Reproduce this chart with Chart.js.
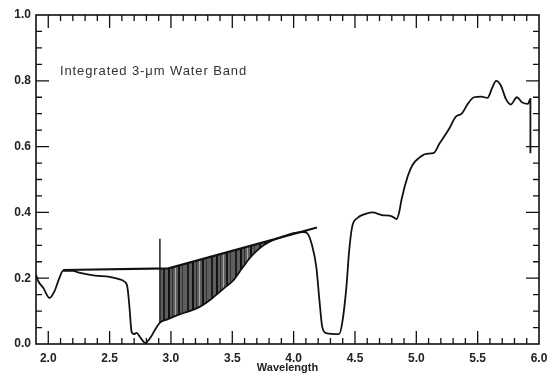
<!DOCTYPE html>
<html>
<head>
<meta charset="utf-8">
<script src="https://cdn.jsdelivr.net/npm/chart.js@4/dist/chart.umd.min.js"></script>
<style>
  html, body { margin: 0; padding: 0; background: #fff; }
  canvas { display: block; }
</style>
</head>
<body>
<canvas id="spectrum" width="549" height="377"></canvas>
<script>
// measured spectrum: wavelength (um) and reflectance
const waveX = [1.90, 1.92, 1.96, 2.01, 2.05, 2.09, 2.12, 2.20, 2.26, 2.38, 2.50, 2.57, 2.62, 2.645,
  2.66, 2.68, 2.70, 2.72, 2.75, 2.79, 2.83, 2.87, 2.91, 2.97, 3.07, 3.15, 3.23, 3.34, 3.45, 3.50,
  3.58, 3.64, 3.72, 3.80, 3.90, 4.00, 4.08, 4.11, 4.15, 4.185, 4.21, 4.233, 4.266, 4.37, 4.396,
  4.43, 4.453, 4.477, 4.52, 4.58, 4.64, 4.72, 4.80, 4.84, 4.86, 4.88, 4.93, 4.97, 5.02, 5.08,
  5.14, 5.19, 5.27, 5.32, 5.37, 5.42, 5.47, 5.53, 5.58, 5.62, 5.65, 5.69, 5.73, 5.77, 5.82,
  5.86, 5.91, 5.93, 5.93];
const waveY = [0.21, 0.19, 0.17, 0.14, 0.16, 0.20, 0.222, 0.222, 0.216, 0.208, 0.204, 0.198, 0.19, 0.173,
  0.12, 0.036, 0.03, 0.034, 0.02, 0.003, 0.018, 0.043, 0.065, 0.075, 0.09, 0.10, 0.112, 0.14, 0.175, 0.19,
  0.23, 0.26, 0.29, 0.31, 0.325, 0.337, 0.34, 0.337, 0.30, 0.234, 0.134, 0.052, 0.033, 0.030, 0.064,
  0.173, 0.285, 0.356, 0.383, 0.395, 0.40, 0.392, 0.388, 0.38, 0.40, 0.44, 0.51, 0.545, 0.565, 0.578,
  0.58, 0.61, 0.656, 0.69, 0.70, 0.73, 0.75, 0.752, 0.748, 0.78, 0.80, 0.785, 0.745, 0.728, 0.75,
  0.735, 0.73, 0.745, 0.58];

// continuum drawn over the band
const baseX = [2.12, 2.98, 4.19];
const baseY = [0.225, 0.230, 0.354];

// band start marker
const markerX = [2.91, 2.91];
const markerY = [0.065, 0.32];

// integration limits of the hatched band
const bandStart = 2.91;
const bandEnd = 4.11;

const xTicks = [2.0, 2.5, 3.0, 3.5, 4.0, 4.5, 5.0, 5.5, 6.0];
const yTicks = [0.0, 0.2, 0.4, 0.6, 0.8, 1.0];

const toPoints = (xs, ys) => xs.map((x, i) => ({ x, y: ys[i] }));
const spectrum = toPoints(waveX, waveY);
const band = spectrum.filter(p => p.x >= bandStart && p.x <= bandEnd);

// vertical stripe fill for the integrated band
function stripePattern(ctx) {
  const c = document.createElement('canvas');
  c.width = 24;
  c.height = 24;
  const p = c.getContext('2d');
  p.fillStyle = '#5e5e5e';
  p.fillRect(0, 0, 24, 24);
  const stripes = [[0, 2, '#111'], [4, 1, '#2e2e2e'], [7, 1, '#a8a8a8'], [10, 2, '#151515'],
    [14, 1, '#383838'], [19, 2, '#1c1c1c']];
  stripes.forEach(([x, w, col]) => { p.fillStyle = col; p.fillRect(x, 0, w, 24); });
  return ctx.createPattern(c, 'repeat');
}

const frameTicks = {
  id: 'frameTicks',
  afterDatasetsDraw(chart) {
    const { ctx, chartArea: a, scales: { x, y } } = chart;
    ctx.save();
    ctx.strokeStyle = '#111';
    ctx.lineWidth = 1.6;
    ctx.strokeRect(a.left, a.top, a.right - a.left, a.bottom - a.top);

    ctx.lineWidth = 1.3;
    ctx.beginPath();
    for (let i = 20; i <= 59; i++) {
      const px = x.getPixelForValue(i / 10);
      const len = i % 5 === 0 ? 13 : 6;
      ctx.moveTo(px, a.bottom); ctx.lineTo(px, a.bottom - len);
      ctx.moveTo(px, a.top); ctx.lineTo(px, a.top + len);
    }
    for (let i = 1; i <= 19; i++) {
      const py = y.getPixelForValue(i / 20);
      const len = i % 4 === 0 ? 13 : 6;
      ctx.moveTo(a.left, py); ctx.lineTo(a.left + len, py);
      ctx.moveTo(a.right, py); ctx.lineTo(a.right - len, py);
    }
    ctx.stroke();

    ctx.fillStyle = '#333';
    ctx.font = '13px "Liberation Sans", Arial, sans-serif';
    ctx.letterSpacing = '0.9px';
    ctx.textBaseline = 'middle';
    ctx.fillText('Integrated 3-\u03bcm Water Band', x.getPixelForValue(2.095), y.getPixelForValue(0.827));
    ctx.restore();
  }
};

const canvas = document.getElementById('spectrum');
const ctx = canvas.getContext('2d');
const hatch = stripePattern(ctx);

new Chart(ctx, {
  type: 'scatter',
  data: {
    datasets: [
      {
        data: spectrum,
        showLine: true,
        borderColor: '#111',
        borderWidth: 1.8,
        pointRadius: 0,
        cubicInterpolationMode: 'monotone'
      },
      {
        data: toPoints(baseX, baseY),
        showLine: true,
        borderColor: '#111',
        borderWidth: 2.2,
        pointRadius: 0
      },
      {
        data: toPoints(markerX, markerY),
        showLine: true,
        borderColor: '#222',
        borderWidth: 1.5,
        pointRadius: 0
      },
      {
        data: band,
        showLine: true,
        borderWidth: 0,
        borderColor: 'rgba(0,0,0,0)',
        backgroundColor: hatch,
        pointRadius: 0,
        cubicInterpolationMode: 'monotone',
        fill: { target: 1, above: hatch, below: hatch }
      }
    ]
  },
  options: {
    responsive: false,
    animation: false,
    layout: { padding: { top: 15, right: 10, bottom: 2, left: 0 } },
    plugins: {
      legend: { display: false },
      tooltip: { enabled: false }
    },
    scales: {
      x: {
        type: 'linear',
        min: 1.9,
        max: 6.0,
        grid: { display: false, drawTicks: false },
        border: { display: false },
        afterBuildTicks: s => { s.ticks = xTicks.map(v => ({ value: v })); },
        afterFit: s => { s.height = 31; s.paddingLeft = 0; s.paddingRight = 0; },
        ticks: {
          autoSkip: false,
          maxRotation: 0,
          padding: 7,
          color: '#222',
          font: { family: '"Liberation Sans", Arial, sans-serif', size: 12, weight: 'bold' },
          callback: v => v.toFixed(1)
        },
        title: {
          display: true,
          text: 'Wavelength',
          color: '#222',
          padding: 0,
          font: { family: '"Liberation Sans", Arial, sans-serif', size: 11, weight: 'bold' }
        }
      },
      y: {
        min: 0,
        max: 1,
        grid: { display: false, drawTicks: false },
        border: { display: false },
        afterBuildTicks: s => { s.ticks = yTicks.map(v => ({ value: v })); },
        afterFit: s => { s.width = 36; s.paddingTop = 0; s.paddingBottom = 0; },
        ticks: {
          padding: 5,
          color: '#222',
          font: { family: '"Liberation Sans", Arial, sans-serif', size: 12, weight: 'bold' },
          callback: v => v.toFixed(1)
        }
      }
    }
  },
  plugins: [frameTicks]
});
</script>
</body>
</html>
